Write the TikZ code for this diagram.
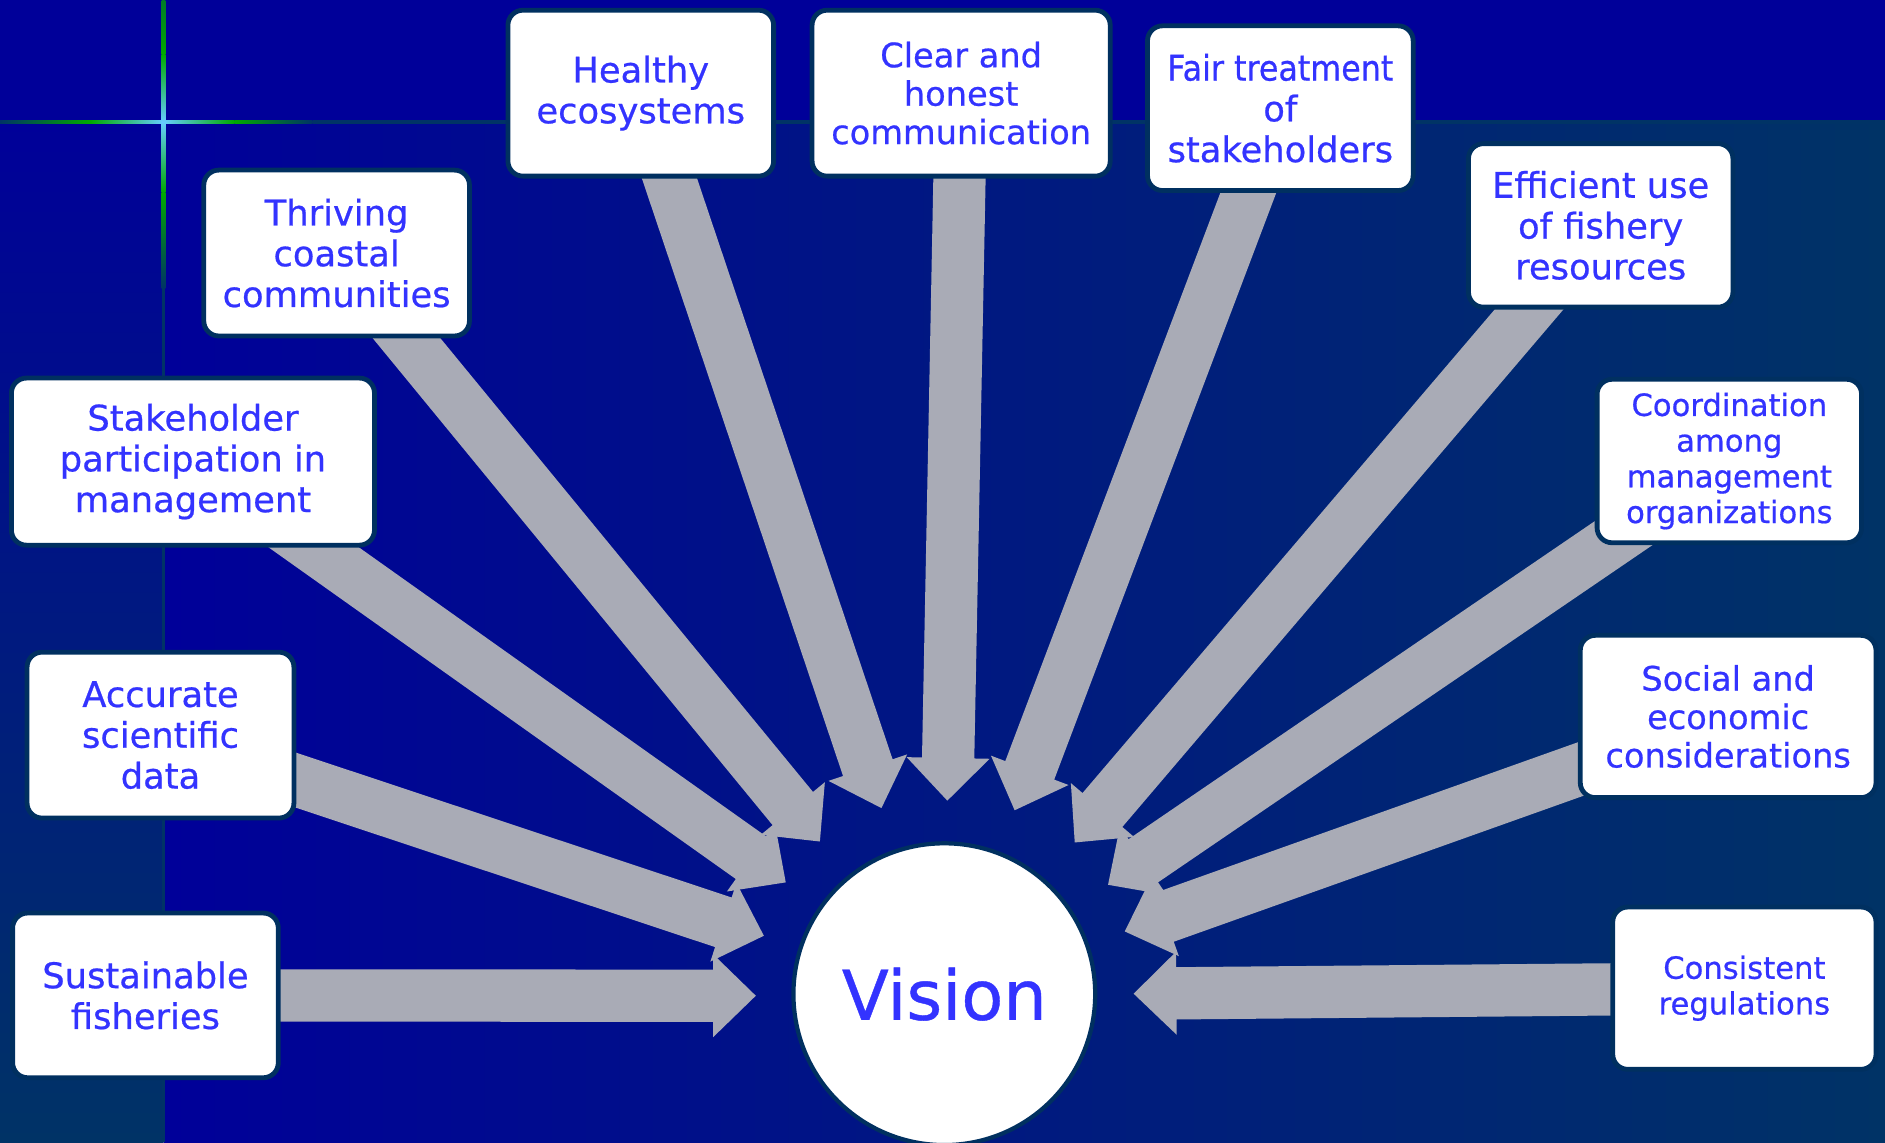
\documentclass[tikz,border=0pt]{standalone}
\usepackage{fontspec}
\setmainfont{DejaVu Sans}[FakeBold=0.6]
\usetikzlibrary{calc}

\definecolor{topblue}{RGB}{0,0,153}
\definecolor{deepteal}{RGB}{0,51,102}
\definecolor{arrowgray}{RGB}{169,171,182}
\definecolor{boxline}{RGB}{0,48,96}
\definecolor{textblue}{RGB}{51,51,255}
\definecolor{glowgreen}{RGB}{0,170,0}
\definecolor{glowcyan}{RGB}{102,204,255}

\pgfdeclarelayer{bg}
\pgfdeclarelayer{arrows}
\pgfsetlayers{bg,arrows,main}

\tikzset{
  goalbox/.style={draw=boxline, line width=0.08cm, fill=white, rounded corners=0.25cm,
    align=center, text=textblue, inner sep=0pt},
  bigfont/.style={font=\fontsize{16.7}{19.3}\selectfont},
  midfont/.style={font=\fontsize{15.9}{18.2}\selectfont},
  smallfont/.style={font=\fontsize{14.5}{16.9}\selectfont},
  visioncircle/.style={circle, draw=boxline, line width=0.07cm, fill=white, inner sep=0pt,
    minimum size=5.02cm, text=textblue, font=\fontsize{32.5}{36}\selectfont}
}

% block arrow from a box (#1) to a tip coordinate (#2)
\newcommand{\blockarrow}[2]{%
  \coordinate (#2-h) at ($(#2)!0.71cm!(#1)$);%
  \fill[arrowgray] ($(#1)!0.435cm!90:(#2)$) -- ($(#2-h)!0.435cm!-90:(#1)$)
    -- ($(#2-h)!0.69cm!-90:(#1)$) -- (#2) -- ($(#2-h)!0.69cm!90:(#1)$)
    -- ($(#2-h)!0.435cm!90:(#1)$) -- ($(#1)!0.435cm!-90:(#2)$) -- cycle;%
}

\begin{document}
\begin{tikzpicture}
  \useasboundingbox (0,0) rectangle (31.36,19);
  \clip (0,0) rectangle (31.36,19);

  % Drawing background
  \begin{pgfonlayer}{bg}
    \fill[topblue] (0,0) rectangle (31.36,19);%
    \shade[left color=topblue, right color=deepteal] (2.72,0) rectangle (31.36,16.97);%
    \shade[top color=topblue, bottom color=deepteal] (0,0) rectangle (2.72,16.97);%

    % Drawing horizontal rule
    \shade[left color=deepteal, right color=glowgreen] (0,16.94) rectangle (1.5,17.0);%
    \shade[left color=glowgreen, right color=glowcyan] (1.5,16.94) rectangle (2.72,17.0);%
    \shade[left color=glowcyan, right color=glowgreen] (2.72,16.94) rectangle (3.9,17.0);%
    \shade[left color=glowgreen, right color=deepteal] (3.9,16.94) rectangle (5.2,17.0);%
    \fill[deepteal] (5.2,16.94) rectangle (31.36,17.0);%

    % Drawing vertical rule
    \shade[top color=glowgreen!60!deepteal, bottom color=glowgreen] (2.69,19) rectangle (2.75,18.1);%
    \shade[top color=glowgreen, bottom color=glowcyan] (2.69,18.1) rectangle (2.75,16.97);%
    \shade[top color=glowcyan, bottom color=glowgreen] (2.69,16.97) rectangle (2.75,15.8);%
    \shade[top color=glowgreen, bottom color=deepteal] (2.69,15.8) rectangle (2.75,14.2);%
    \fill[deepteal] (2.69,0) rectangle (2.75,14.2);%
  \end{pgfonlayer}

  % Drawing circle vision
  \node[visioncircle] (vision) at (15.71,2.46) {Vision};%

  % Drawing boxes, left side
  \node[goalbox, bigfont, minimum width=4.42cm, minimum height=2.74cm] (sf) at (2.42,2.44) {Sustainable\\fisheries};%
  \node[goalbox, bigfont, minimum width=4.44cm, minimum height=2.76cm] (asd) at (2.67,6.77) {Accurate\\scientific\\data};%
  \node[goalbox, bigfont, minimum width=6.04cm, minimum height=2.78cm] (spm) at (3.21,11.32) {Stakeholder\\participation in\\management};%
  \node[goalbox, bigfont, minimum width=4.42cm, minimum height=2.76cm] (tcc) at (5.60,14.79) {Thriving\\coastal\\communities};%

  % Drawing boxes, top
  \node[goalbox, bigfont, minimum width=4.42cm, minimum height=2.76cm] (he) at (10.66,17.45) {Healthy\\ecosystems};%
  \node[goalbox, midfont, minimum width=4.96cm, minimum height=2.76cm] (cho) at (15.99,17.45) {Clear and\\honest\\communication};%
  \node[goalbox, bigfont, minimum width=4.42cm, minimum height=2.74cm] (fts) at (21.30,17.20) {\scalebox{0.9}[1]{Fair treatment}\\of\\stakeholders};%

  % Drawing boxes, right side
  \node[goalbox, bigfont, minimum width=4.40cm, minimum height=2.72cm] (efr) at (26.63,15.25) {Efficient use\\of fishery\\resources};%
  \node[goalbox, smallfont, minimum width=4.40cm, minimum height=2.72cm] (cmo) at (28.77,11.33) {Coordination\\among\\management\\organizations};%
  \node[goalbox, midfont, minimum width=4.92cm, minimum height=2.70cm] (sec) at (28.75,7.08) {Social and\\economic\\considerations};%
  \node[goalbox, smallfont, minimum width=4.38cm, minimum height=2.70cm] (cr) at (29.02,2.56) {Consistent\\regulations};%

  % Marking arrow tips round the circle
  \coordinate (sf-tip) at (12.574,2.434);
  \coordinate (asd-tip) at (12.708,3.432);
  \coordinate (spm-tip) at (13.072,4.32);
  \coordinate (tcc-tip) at (13.64,5.00);
  \coordinate (he-tip) at (14.664,5.556);
  \coordinate (cho-tip) at (15.76,5.68);
  \coordinate (fts-tip) at (16.88,5.52);
  \coordinate (efr-tip) at (17.88,4.984);
  \coordinate (cmo-tip) at (18.434,4.28);
  \coordinate (sec-tip) at (18.712,3.504);
  \coordinate (cr-tip) at (18.86,2.468);

  % Drawing arrows
  \begin{pgfonlayer}{arrows}
    \foreach \b in {sf,asd,spm,tcc,he,cho,fts,efr,cmo,sec,cr}
      {\blockarrow{\b}{\b-tip}}
  \end{pgfonlayer}
\end{tikzpicture}
\end{document}
